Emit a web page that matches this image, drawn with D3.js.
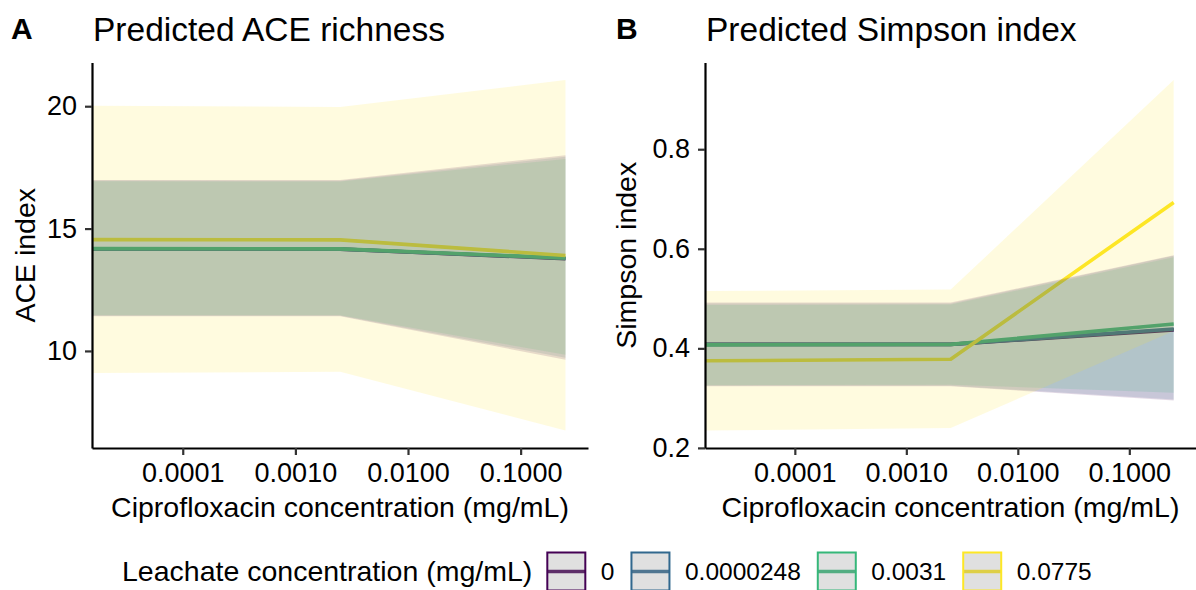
<!DOCTYPE html>
<html>
<head>
<meta charset="utf-8">
<script src="https://cdn.jsdelivr.net/npm/d3@7"></script>
<style>
  body { margin: 0; background: #fff; }
  svg { display: block; }
  text { font-family: "Liberation Sans", Arial, Helvetica, sans-serif; fill: #000; }
</style>
</head>
<body>
<svg id="chart" width="1196" height="590"></svg>
<script>
// Ciprofloxacin doses at which predictions were made (0 sits on the left edge of the log axis)
const ciproDoses = [0, 0.0025, 0.25];
// Range covered by the log x scale before padding
const ciproAxisLimits = [0.0000248, 0.25];
const ciproTicks = [0.0001, 0.001, 0.01, 0.1];

// Leachate concentration groups (mg/mL) and their viridis colours
const leachateLevels = ["0", "0.0000248", "0.0031", "0.0775"];
const leachateColors = ["#440154", "#31688E", "#35B779", "#FDE725"];

// Predicted ACE richness: fit and confidence band, one row per leachate level
const aceFit = [
  [14.17, 14.16, 13.77],
  [14.17, 14.16, 13.78],
  [14.18, 14.17, 13.80],
  [14.55, 14.54, 13.90]
];
const aceLower = [
  [11.42, 11.42, 9.64],
  [11.44, 11.44, 9.72],
  [11.46, 11.46, 9.84],
  [9.10, 9.15, 6.75]
];
const aceUpper = [
  [16.98, 16.98, 18.00],
  [16.96, 16.95, 17.93],
  [16.93, 16.92, 17.84],
  [20.02, 19.97, 21.07]
];
const aceTicks = [10, 15, 20];

// Predicted Simpson index: fit and confidence band, one row per leachate level
const simpsonFit = [
  [0.408, 0.408, 0.437],
  [0.408, 0.408, 0.439],
  [0.407, 0.408, 0.449],
  [0.375, 0.378, 0.693]
];
const simpsonLower = [
  [0.324, 0.324, 0.295],
  [0.325, 0.325, 0.297],
  [0.326, 0.327, 0.311],
  [0.235, 0.240, 0.435]
];
const simpsonUpper = [
  [0.492, 0.492, 0.587],
  [0.490, 0.490, 0.586],
  [0.487, 0.488, 0.583],
  [0.515, 0.518, 0.939]
];
const simpsonTicks = [0.2, 0.4, 0.6, 0.8];

const svg = d3.select("#chart");

const TICK_FONT = 27;
const TITLE_FONT = 28.5;
const LABEL_FONT = 24.5;

function drawPanel(opts) {
  const { left, right, top, bottom, fit, lower, upper, yTicks, yFormat,
          tag, tagX, title, titleX, yTitle, yTitleX } = opts;

  // log x scale padded by 5% of the log range on each side
  const lo = Math.log10(ciproAxisLimits[0]);
  const hi = Math.log10(ciproAxisLimits[1]);
  const pad = 0.05 * (hi - lo);
  const x = d3.scaleLog()
    .domain([Math.pow(10, lo - pad), Math.pow(10, hi + pad)])
    .range([left, right]);
  const xPos = d => (d > 0 ? x(d) : left);

  // linear y scale padded by 5% of the band range
  const yMin = d3.min(lower.flat());
  const yMax = d3.max(upper.flat());
  const yPad = 0.05 * (yMax - yMin);
  const y = d3.scaleLinear()
    .domain([yMin - yPad, yMax + yPad])
    .range([bottom, top]);

  const g = svg.append("g");

  // fitted lines first, bands drawn over them
  const line = d3.line()
    .x((d, i) => xPos(ciproDoses[i]))
    .y(d => y(d));
  g.append("g").selectAll("path")
    .data(fit)
    .join("path")
    .attr("d", d => line(d))
    .attr("fill", "none")
    .attr("stroke", (d, i) => leachateColors[i])
    .attr("stroke-width", 3.6)
    .attr("stroke-linejoin", "round");

  const area = d3.area()
    .x(d => xPos(d.x))
    .y0(d => y(d.lo))
    .y1(d => y(d.hi));
  const bands = lower.map((row, k) =>
    row.map((v, i) => ({ x: ciproDoses[i], lo: v, hi: upper[k][i] })));
  g.append("g").selectAll("path")
    .data(bands)
    .join("path")
    .attr("d", d => area(d))
    .attr("fill", (d, i) => leachateColors[i])
    .attr("fill-opacity", 0.15)
    .attr("stroke", "none");

  // axes
  const xAxis = g.append("g")
    .attr("transform", `translate(0,${bottom})`)
    .call(d3.axisBottom(x)
      .tickValues(ciproTicks)
      .tickFormat(d3.format(".4f"))
      .tickSize(7)
      .tickSizeOuter(0)
      .tickPadding(8));
  const yAxis = g.append("g")
    .attr("transform", `translate(${left},0)`)
    .call(d3.axisLeft(y)
      .tickValues(yTicks)
      .tickFormat(yFormat)
      .tickSize(7)
      .tickSizeOuter(0)
      .tickPadding(8));
  [xAxis, yAxis].forEach(ax => {
    ax.select(".domain").attr("stroke", "#000").attr("stroke-width", 2.2);
    ax.selectAll(".tick line").attr("stroke", "#333").attr("stroke-width", 2.2);
    ax.selectAll(".tick text")
      .attr("fill", "#000")
      .style("font-size", TICK_FONT + "px")
      .style("font-family", '"Liberation Sans", Arial, sans-serif');
  });

  // axis titles
  g.append("text")
    .attr("x", (left + right) / 2)
    .attr("y", 516.5)
    .attr("text-anchor", "middle")
    .style("font-size", TITLE_FONT + "px")
    .text("Ciprofloxacin concentration (mg/mL)");
  g.append("text")
    .attr("transform", `translate(${yTitleX},${(top + bottom) / 2}) rotate(-90)`)
    .attr("text-anchor", "middle")
    .style("font-size", TITLE_FONT + "px")
    .text(yTitle);

  // panel tag and title
  g.append("text")
    .attr("x", tagX)
    .attr("y", 38.5)
    .style("font-size", "30px")
    .style("font-weight", "bold")
    .text(tag);
  g.append("text")
    .attr("x", titleX)
    .attr("y", 40.5)
    .style("font-size", "33.5px")
    .text(title);
}

drawPanel({
  left: 92, right: 588, top: 62.5, bottom: 448,
  fit: aceFit, lower: aceLower, upper: aceUpper,
  yTicks: aceTicks, yFormat: d3.format("d"),
  tag: "A", tagX: 11, title: "Predicted ACE richness", titleX: 93,
  yTitle: "ACE index", yTitleX: 35
});

drawPanel({
  left: 705, right: 1196, top: 62.5, bottom: 448,
  fit: simpsonFit, lower: simpsonLower, upper: simpsonUpper,
  yTicks: simpsonTicks, yFormat: d3.format(".1f"),
  tag: "B", tagX: 616, title: "Predicted Simpson index", titleX: 706,
  yTitle: "Simpson index", yTitleX: 636
});

// legend along the bottom
const legend = svg.append("g");
const legendMid = 571.5;
const keySize = 40;
const legendTitle = legend.append("text")
  .attr("x", 122)
  .attr("y", legendMid + 0.35 * TITLE_FONT)
  .style("font-size", TITLE_FONT + "px")
  .text("Leachate concentration (mg/mL)");
let cursor = 122 + legendTitle.node().getComputedTextLength() + 14;
leachateLevels.forEach((lvl, i) => {
  const key = legend.append("g").attr("transform", `translate(${cursor},${legendMid - keySize / 2})`);
  key.append("rect")
    .attr("width", keySize).attr("height", keySize)
    .attr("fill", "#fff");
  key.append("line")
    .attr("x1", 1).attr("x2", keySize - 1)
    .attr("y1", keySize / 2).attr("y2", keySize / 2)
    .attr("stroke", leachateColors[i])
    .attr("stroke-width", 3.6);
  key.append("rect")
    .attr("x", 1).attr("y", 1)
    .attr("width", keySize - 2).attr("height", keySize - 2)
    .attr("fill", "#999")
    .attr("fill-opacity", 0.3)
    .attr("stroke", leachateColors[i])
    .attr("stroke-width", 2);
  const label = legend.append("text")
    .attr("x", cursor + keySize + 14.5)
    .attr("y", legendMid + 0.35 * LABEL_FONT)
    .style("font-size", LABEL_FONT + "px")
    .text(lvl);
  cursor += keySize + 14.5 + label.node().getComputedTextLength() + 16;
});
</script>
</body>
</html>
